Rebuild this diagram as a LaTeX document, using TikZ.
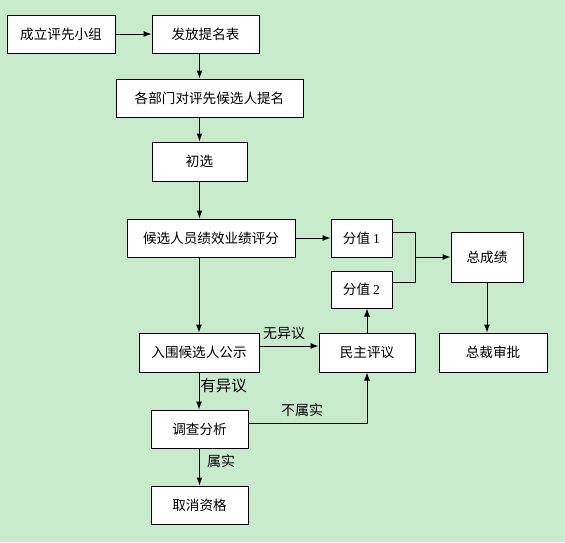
\documentclass[tikz,border=0pt]{standalone}
\usepackage{fontspec}
\setmainfont{Liberation Serif}
\newfontfamily\cjk{Noto Sans CJK SC}
\usetikzlibrary{arrows.meta}
\definecolor{bgc}{RGB}{199,235,203}
\begin{document}
\begin{tikzpicture}[x=1pt,y=-1pt,
  box/.style={draw=black,line width=1pt,fill=white,inner sep=0pt,font=\cjk\fontsize{13.6}{15}\selectfont},
  arr/.style={line width=1pt,-{Latex[length=8pt,width=6pt]}},
  ln/.style={line width=1pt},
  lbl/.style={inner sep=0pt,font=\cjk\fontsize{14}{16}\selectfont}]
\fill[bgc] (0,0) rectangle (565,542);
\useasboundingbox (0,0) rectangle (565,542);
\node[box,minimum width=108pt,minimum height=38pt] (a) at (61,34) {成立评先小组};
\node[box,minimum width=107pt,minimum height=38pt] (b) at (205.5,34) {发放提名表};
\node[box,minimum width=187pt,minimum height=38pt] (c) at (209.5,98) {各部门对评先候选人提名};
\node[box,minimum width=95pt,minimum height=39pt] (d) at (199.5,161.5) {初选};
\node[box,minimum width=168pt,minimum height=38pt] (e) at (211,238) {候选人员绩效业绩评分};
\node[box,minimum width=61pt,minimum height=38pt] (f) at (361.5,238) {分值 {\rmfamily 1}};
\node[box,minimum width=61pt,minimum height=37pt] (g) at (361.5,289.5) {分值 {\rmfamily 2}};
\node[box,minimum width=72pt,minimum height=50pt] (h) at (487,257) {总成绩};
\node[box,minimum width=120pt,minimum height=39pt] (i) at (199,352.5) {入围候选人公示};
\node[box,minimum width=96pt,minimum height=39pt] (j) at (367,352.5) {民主评议};
\node[box,minimum width=108pt,minimum height=39pt] (k) at (493,352.5) {总裁审批};
\node[box,minimum width=97pt,minimum height=38pt] (l) at (199.5,429) {调查分析};
\node[box,minimum width=97pt,minimum height=38pt] (m) at (199.5,505) {取消资格};
\coordinate (mg) at (415,257);
% connectors
\draw[arr] (a.east) -- (b.west);
\draw[arr] (b.south -| d.center) -- (c.north -| d.center);
\draw[arr] (c.south -| d.center) -- (d.north);
\draw[arr] (d.south) -- (e.north -| d.center);
\draw[arr] (e.east) -- (f.west);
\draw[arr] (e.south -| i.center) -- (i.north);
\draw[ln] ([yshift=6pt]f.east) -| (mg);
\draw[ln] ([yshift=7.5pt]g.east) -| (mg);
\draw[arr] (mg) -- (h.west);
\draw[arr] (h.south) -- (k.north -| h.center);
\draw[arr] ([yshift=6.5pt]i.east) -- ([yshift=6.5pt]j.west);
\draw[arr] (j.north) -- (g.south -| j.center);
\draw[arr] (i.south) -- (l.north -| i.center);
\draw[arr] ([yshift=6pt]l.east) -| (j.south);
\draw[arr] (l.south) -- (m.north);
% labels
\node[lbl] (t1) at (284,333) {无异议};
\node[lbl,font=\cjk\fontsize{15.5}{17}\selectfont] (t2) at (223.5,385.5) {有异议};
\node[lbl] (t3) at (221,461.5) {属实};
\node[lbl] (t4) at (302,410) {不属实};
\end{tikzpicture}
\end{document}
